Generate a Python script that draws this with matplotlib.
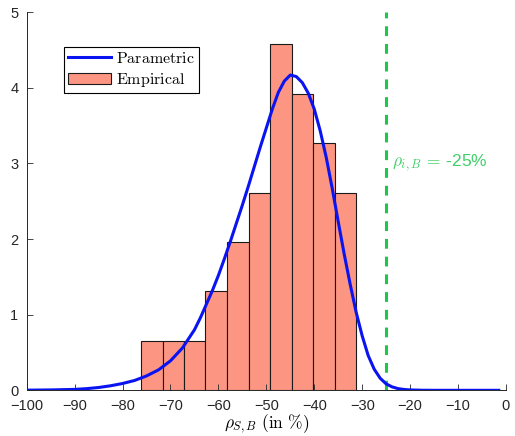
import matplotlib.pyplot as plt

plt.rcParams['mathtext.fontset'] = 'cm'
plt.rcParams['font.family'] = ['Liberation Sans', 'DejaVu Sans']

# empirical histogram (density), x in %
bin_edges = [-76.1, -71.6, -67.1, -62.7, -58.2, -53.7, -49.2, -44.7, -40.2, -35.7, -31.25]
bar_heights = [0.654, 0.654, 0.654, 1.307, 1.961, 2.614, 4.575, 3.922, 3.268, 2.614]

# parametric density
curve_x = [-100, -95, -90, -87.5, -85, -82.5, -80, -77.5, -75, -72.5, -70, -67.5,
           -65, -63.75, -62.5, -61.25, -60, -58.75, -57.5, -56.25, -55, -53.75, -52.5,
           -51.25, -50, -48.75, -47.5, -46.25, -45, -43.75, -42.5, -41.25, -40,
           -38.75, -37.5, -36.25, -35, -33.75, -32.5, -31.25, -30, -28.75, -27.5, -26.25,
           -25, -23.75, -22.5, -21.25, -20, -17.5, -15, -10, -5, -1.5]
curve_y = [0.002, 0.005, 0.012, 0.022, 0.037, 0.06, 0.09, 0.13, 0.19, 0.27, 0.39, 0.56,
           0.80, 0.96, 1.14, 1.32, 1.52, 1.74, 1.97, 2.21, 2.45, 2.70, 2.96,
           3.22, 3.47, 3.72, 3.94, 4.09, 4.17, 4.15, 4.07, 3.93, 3.72,
           3.43, 3.08, 2.67, 2.23, 1.80, 1.40, 1.03, 0.72, 0.46, 0.28, 0.16,
           0.085, 0.045, 0.022, 0.011, 0.005, 0.001, 0.0, 0.0, 0.0, 0.0]

threshold = -25

fig = plt.figure(figsize=(5.15, 4.36), dpi=100)
ax = fig.add_axes([0.0518, 0.1048, 0.9307, 0.867])

widths = [bin_edges[i + 1] - bin_edges[i] for i in range(len(bar_heights))]
ax.bar(bin_edges[:-1], bar_heights, width=widths, align='edge',
       color='#FC9682', edgecolor='#1a1a1a', linewidth=0.8, label=r'$\mathrm{Empirical}$', zorder=1)
ax.plot(curve_x, curve_y, color='#0A14F0', linewidth=2.2, label=r'$\mathrm{Parametric}$',
        zorder=3, solid_joinstyle='round')
ax.axvline(threshold, color='#1CC84A', linestyle=(0, (3.2, 2.6)), linewidth=2.2, zorder=2)
ax.text(-23.8, 3.0, r'$\rho_{i,B}\,=\,$-25%', color='#3FD06A', fontsize=12.5,
        va='center', ha='left')

ax.set_xlim(-100, 0)
ax.set_ylim(0, 5)
ax.set_xticks(range(-100, 1, 10))
ax.set_yticks(range(0, 6))
ax.tick_params(direction='in', length=4, width=0.6, colors='#262626', labelsize=10.5)
ax.tick_params(axis='x', pad=6)
ax.tick_params(axis='y', pad=6)
for s in ['top', 'right']:
    ax.spines[s].set_visible(False)
for s in ['left', 'bottom']:
    ax.spines[s].set_color('#262626')
    ax.spines[s].set_linewidth(0.7)

ax.set_xlabel(r'$\rho_{S,B}\ \mathrm{(in\ \%)}$', fontsize=12.5, labelpad=0)

leg = ax.legend(loc='upper left', bbox_to_anchor=(0.078, 0.908),
                borderaxespad=0, fancybox=False, edgecolor='black', fontsize=11.5,
                handlelength=2.7, handletextpad=0.3, borderpad=0.25, labelspacing=0.3,
                framealpha=1)
leg.get_frame().set_linewidth(0.8)

fig.savefig('out.png', dpi=100)
